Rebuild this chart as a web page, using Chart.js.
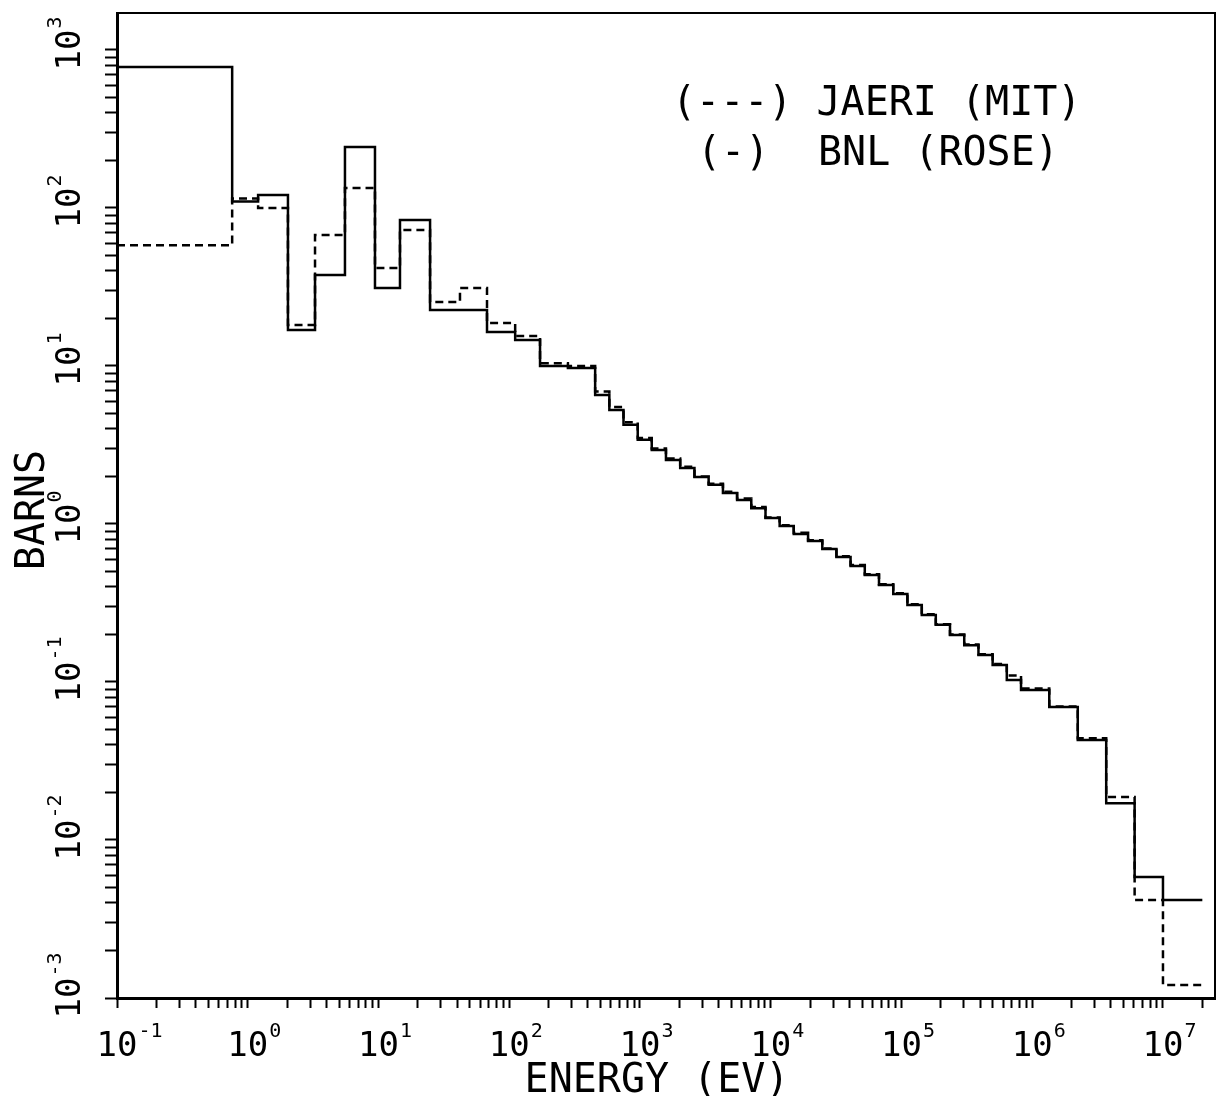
<!DOCTYPE html>
<html>
<head>
<meta charset="utf-8">
<script src="https://cdn.jsdelivr.net/npm/chart.js@4.4.1/dist/chart.umd.min.js"></script>
<style>
  body { margin: 0; background: #fff; }
</style>
</head>
<body>
<canvas id="myChart" width="1220" height="1096"></canvas>
<script>
// group boundaries (eV), low -> high
const energyBounds = [0.1, 0.76, 1.2, 2.03, 3.27, 5.54, 9.4, 14.6, 24.8, 42, 67.6, 111, 172, 281, 454,
  583, 748, 961, 1230, 1580, 2030, 2610, 3350, 4310, 5530, 7100, 9120, 11700, 15000, 19300, 24800,
  31800, 40800, 52400, 67300, 86500, 111000, 143000, 183000, 235000, 302000, 388000, 498000, 639000, 821000,
  1350000, 2230000, 3680000, 6070000, 10000000, 20000000];

// cross sections (barns), one per group
const bnlValues = [780, 110, 121, 16.9, 37.7, 243, 31.2, 84, 22.6, 22.6, 16.4, 14.6, 10.0, 9.7,
  6.55, 5.27, 4.24, 3.41, 2.94, 2.54, 2.26, 1.98, 1.77, 1.57, 1.42, 1.26, 1.09, 0.97, 0.865,
  0.78, 0.695, 0.618, 0.542, 0.475, 0.411, 0.360, 0.307, 0.265, 0.230, 0.198, 0.171, 0.148, 0.128, 0.103,
  0.089, 0.0695, 0.043, 0.0171, 0.00583, 0.00417];

const jaeriValues = [58, 115, 100, 18.2, 67.5, 134, 41.7, 72.6, 25.4, 31.2, 18.7, 15.5, 10.4, 10.0,
  6.9, 5.5, 4.4, 3.5, 3.0, 2.6, 2.3, 2.0, 1.8, 1.6, 1.45, 1.28, 1.1, 0.98, 0.88,
  0.79, 0.70, 0.625, 0.55, 0.48, 0.415, 0.365, 0.31, 0.268, 0.232, 0.2, 0.173, 0.15, 0.13, 0.11,
  0.091, 0.07, 0.044, 0.0187, 0.00417, 0.00121];

// decade labels
const xTickPowers = [-1, 0, 1, 2, 3, 4, 5, 6, 7];
const yTickPowers = [-3, -2, -1, 0, 1, 2, 3];

const legendLines = ['(---) JAERI (MIT)', '(-)', 'BNL (ROSE)'];

const FONT = '"DejaVu Sans Mono", "Liberation Mono", monospace';

// step points: each value held from its lower bound, last one closed at top bound
function toSteps(values) {
  const pts = values.map((v, i) => ({ x: energyBounds[i], y: v }));
  pts.push({ x: energyBounds[values.length], y: values[values.length - 1] });
  return pts;
}

// 1..9 x 10^e tick marks
function logTicks(lo, hi, max) {
  const t = [];
  for (let e = lo; e <= hi; e++) {
    for (let m = 1; m <= 9; m++) {
      const v = m * Math.pow(10, e);
      if (v <= max * 1.0001) t.push({ value: v });
    }
  }
  return t;
}

// "10" with small exponent
function drawPower(ctx, p) {
  ctx.font = '34px ' + FONT;
  const w = ctx.measureText('10').width;
  ctx.fillText('10', -w / 2, 0);
  ctx.font = '20px ' + FONT;
  ctx.fillText(String(p), w / 2 + 1, -19);
}

const labelPlugin = {
  id: 'plotterLabels',
  afterDraw(chart) {
    const ctx = chart.ctx;
    const area = chart.chartArea;
    const xs = chart.scales.x;
    const ys = chart.scales.y;
    ctx.save();
    ctx.strokeStyle = '#000';
    ctx.fillStyle = '#000';
    ctx.lineWidth = 2;
    ctx.strokeRect(area.left, area.top, area.right - area.left, area.bottom - area.top);
    ctx.textAlign = 'left';
    ctx.textBaseline = 'alphabetic';

    xTickPowers.forEach(p => {
      const px = xs.getPixelForValue(Math.pow(10, p));
      ctx.save();
      ctx.translate(px, 1056);
      drawPower(ctx, p);
      ctx.restore();
    });
    yTickPowers.forEach(p => {
      const py = ys.getPixelForValue(Math.pow(10, p));
      ctx.save();
      ctx.translate(80, py);
      ctx.rotate(-Math.PI / 2);
      drawPower(ctx, p);
      ctx.restore();
    });

    // axis titles
    ctx.font = '40px ' + FONT;
    ctx.textAlign = 'center';
    ctx.fillText('ENERGY (EV)', 657, 1092);
    ctx.save();
    ctx.translate(44, 510);
    ctx.rotate(-Math.PI / 2);
    ctx.fillText('BARNS', 0, 0);
    ctx.restore();

    // legend
    ctx.textAlign = 'left';
    ctx.fillText(legendLines[0], 672, 115);
    ctx.fillText(legendLines[1], 697, 165);
    ctx.fillText(legendLines[2], 818, 165);
    ctx.restore();
  }
};

const data = {
  datasets: [{
    label: 'JAERI (MIT)',
    data: toSteps(jaeriValues),
    stepped: 'before',
    borderColor: '#000',
    borderWidth: 2.5,
    borderDash: [8, 5],
    pointRadius: 0,
    fill: false
  }, {
    label: 'BNL (ROSE)',
    data: toSteps(bnlValues),
    stepped: 'before',
    borderColor: '#000',
    borderWidth: 2.5,
    pointRadius: 0,
    fill: false
  }]
};

const config = {
  type: 'line',
  data: data,
  options: {
    responsive: false,
    animation: false,
    layout: { padding: { top: 13, right: 5, left: 0, bottom: 0 } },
    plugins: { legend: { display: false }, tooltip: { enabled: false } },
    scales: {
      x: {
        type: 'logarithmic',
        min: 0.1,
        max: 2.5e7,
        ticks: { display: false },
        grid: { drawOnChartArea: false, drawTicks: true, tickLength: 10, tickWidth: 2, tickColor: '#000' },
        border: { display: true, color: '#000', width: 3 },
        afterBuildTicks: s => { s.ticks = logTicks(-1, 7, s.max); },
        afterFit: s => { s.height = 98; }
      },
      y: {
        type: 'logarithmic',
        min: 0.001,
        max: 1714,
        ticks: { display: false },
        grid: { drawOnChartArea: false, drawTicks: true, tickLength: 12, tickWidth: 2, tickColor: '#000' },
        border: { display: true, color: '#000', width: 3 },
        afterBuildTicks: s => { s.ticks = logTicks(-3, 3, s.max); },
        afterFit: s => { s.width = 117; }
      }
    }
  },
  plugins: [labelPlugin]
};

const myChart = new Chart(document.getElementById('myChart'), config);
</script>
</body>
</html>
